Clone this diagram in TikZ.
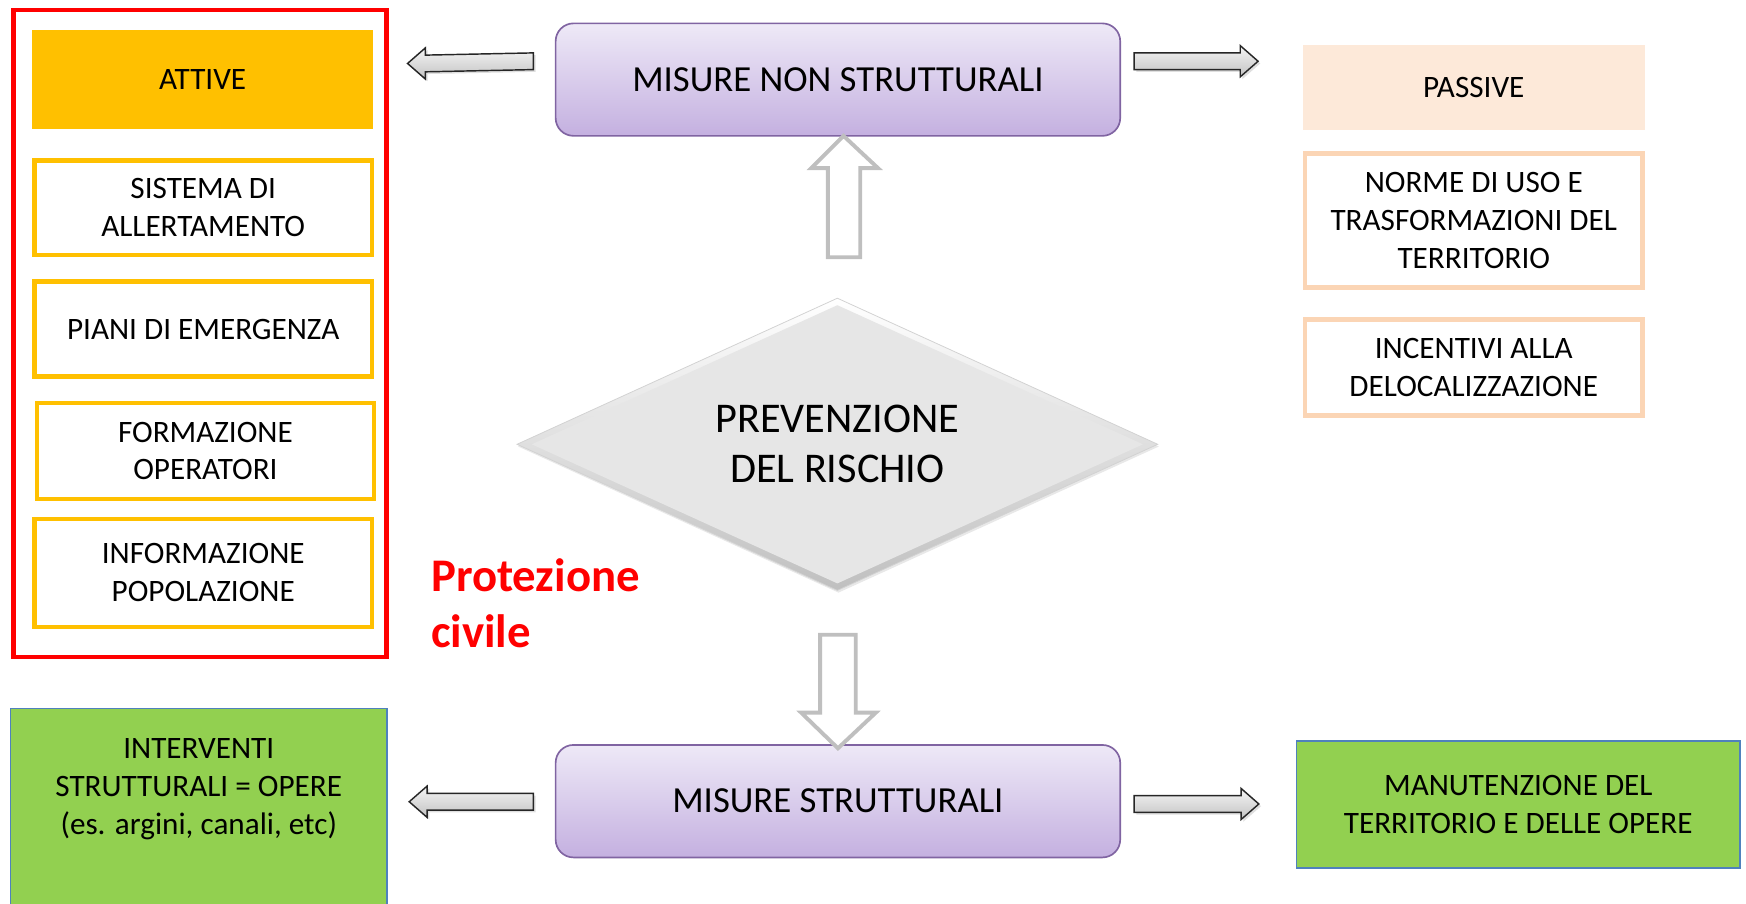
\documentclass[tikz,border=0pt]{standalone}
\usepackage{fontspec}
\setmainfont{Carlito}
\usetikzlibrary{shapes.geometric,shadows,calc,backgrounds}
\definecolor{attivefill}{HTML}{FFC000}
\definecolor{attiveline}{HTML}{FFC000}
\definecolor{peachfill}{HTML}{FDE9D9}
\definecolor{peachline}{HTML}{FBD5B5}
\definecolor{purtop}{HTML}{EEE9F7}
\definecolor{purbot}{HTML}{C4B0E0}
\definecolor{purline}{HTML}{8064A2}
\definecolor{greenfill}{HTML}{92D050}
\definecolor{greenline}{HTML}{4F81BD}
\definecolor{hollowgray}{HTML}{BFBFBF}
\definecolor{dmfill}{HTML}{E6E6E6}
\definecolor{protred}{HTML}{FF0000}
\newcommand\blockarrow[3]{%
  \path[barrow] (#1) -- ++({#3*16},-14) -- ++(0,6.5) -- ($(#2)+(0,-7.5)$) -- ($(#2)+(0,7.5)$) -- ($(#1)+({#3*16},7.5)$) -- ++(0,6.5) -- cycle;}
\begin{document}
\begin{tikzpicture}[x=1pt,y=-1pt,
  txt/.style={font=\fontsize{28}{34}\selectfont, align=center, text=black, inner sep=0pt},
  obox/.style={draw=#1, line width=4pt, fill=white, inner sep=0pt, outer sep=0pt},
  pbox/.style={font=\fontsize{33}{40}\selectfont, align=center, inner sep=0pt, outer sep=0pt,
     minimum width=507, minimum height=101, rounded corners=16pt,
     top color=purtop, bottom color=purbot, draw=purline, line width=1.5pt},
  gbox/.style={txt, fill=greenfill, draw=greenline, line width=1.2pt, outer sep=0pt},
  barrow/.style={draw=black!85, line width=1.3pt, top color=gray!8, bottom color=gray!48,
     drop shadow={opacity=0.25, shadow xshift=2pt, shadow yshift=-2pt}},
  hollow/.style={draw=hollowgray, line width=3.5pt, fill=white, line join=miter}]
\useasboundingbox (0,0) rectangle (1568,811);
\clip (0,0) rectangle (1568,811);

% left column (Protezione civile)
\node[obox=protred, minimum width=335, minimum height=581] (prot) at (179.5,299.5) {};
\node[txt, fill=attivefill, minimum width=306, minimum height=89] (att) at (182,71.5) {ATTIVE};
\node[txt, obox=attiveline, minimum width=303, minimum height=85] (sis) at (182.5,186.5) {SISTEMA DI\\ALLERTAMENTO};
\node[txt, obox=attiveline, minimum width=303, minimum height=85] (pia) at (182.5,295.5) {PIANI DI EMERGENZA};
\node[txt, obox=attiveline, minimum width=303, minimum height=86] (for) at (184.5,405) {FORMAZIONE\\OPERATORI};
\node[txt, obox=attiveline, minimum width=303, minimum height=97] (inf) at (182.5,514.5) {INFORMAZIONE\\POPOLAZIONE};
\node[font=\fontsize{42}{50}\selectfont\bfseries, text=protred, align=left, anchor=west, inner sep=0pt] (pc) at (387,542) {Protezione\\civile};

% right column (passive)
\node[txt, fill=peachfill, minimum width=307, minimum height=77] (pas) at (1323.5,78.5) {PASSIVE};
\node[txt, obox=peachline, minimum width=303, minimum height=120] (nor) at (1323.5,198) {NORME DI USO E\\TRASFORMAZIONI DEL\\TERRITORIO};
\node[txt, obox=peachline, minimum width=303, minimum height=86] (inc) at (1323.5,330) {INCENTIVI ALLA\\DELOCALIZZAZIONE};

% center
\node[pbox] (nms) at (752.5,71.5) {MISURE NON STRUTTURALI};
\node[pbox] (ms) at (752.5,719.5) {MISURE STRUTTURALI};

\node[diamond, aspect=2.2, fill=dmfill, minimum width=549, minimum height=250, inner sep=0pt,
      font=\fontsize{38}{45}\selectfont, align=center] (prev) at (752,399) {PREVENZIONE\\DEL RISCHIO};
\begin{scope}[on background layer]
  \path[top color=white, bottom color=gray!50, draw=gray!35, line width=0.7pt,
        drop shadow={opacity=0.18, shadow xshift=1pt, shadow yshift=-2pt}]
    ($(prev.north)+(0,-6)$) -- ($(prev.east)+(13,0)$) -- ($(prev.south)+(0,6)$) -- ($(prev.west)+(-13,0)$) -- cycle;
\end{scope}

% bottom green boxes
\node[gbox, minimum width=338, minimum height=194] (intv) at (178.5,733) {};
\node[txt] (intvt) at (178.5,709) {INTERVENTI\\STRUTTURALI = OPERE\\(es. argini, canali, etc)};
\node[gbox, minimum width=398, minimum height=114] (man) at (1363.5,722.5) {MANUTENZIONE DEL\\TERRITORIO E DELLE OPERE};

% horizontal block arrows
\coordinate (a1tip) at ($(prot.north east)+(19,48)$);
\coordinate (a1tail) at ($(nms.west)+(-20,-16.5)$);
\blockarrow{a1tip}{a1tail}{1}
\coordinate (a2tip) at ($(pas.west)+(-40,-23.5)$);
\coordinate (a2tail) at ($(nms.east)+(12.5,-16.5)$);
\blockarrow{a2tip}{a2tail}{-1}
\coordinate (a3tip) at ($(intv.north east)+(20,84)$);
\coordinate (a3tail) at ($(ms.west)+(-20,0.5)$);
\blockarrow{a3tip}{a3tail}{1}
\coordinate (a4tip) at ($(man.west)+(-34,-0.5)$);
\coordinate (a4tail) at ($(ms.east)+(12.5,2.5)$);
\blockarrow{a4tip}{a4tail}{-1}

% hollow vertical arrows
\coordinate (uptip) at ($(nms.south)+(5,0)$);
\path[hollow] (uptip) -- ++(31,29) -- ++(-16,0) -- ++(0,80) -- ++(-29,0) -- ++(0,-80) -- ++(-15,0) -- cycle;
\coordinate (dntip) at ($(ms.north)+(0,3)$);
\path[hollow] (dntip) -- ++(34,-32) -- ++(-18,0) -- ++(0,-70) -- ++(-32,0) -- ++(0,70) -- ++(-17,0) -- cycle;
\end{tikzpicture}
\end{document}
